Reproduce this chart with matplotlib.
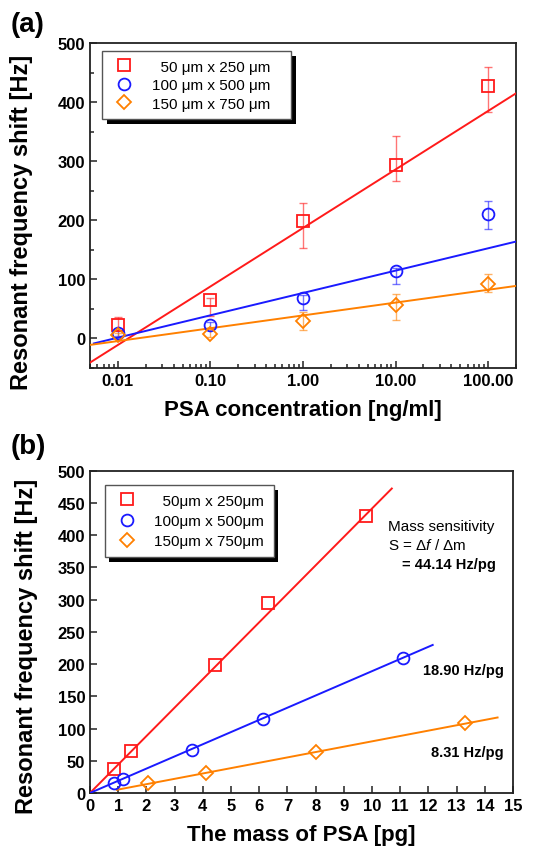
import numpy as np
import matplotlib
matplotlib.use("Agg")
import matplotlib.pyplot as plt
from matplotlib.patches import Rectangle
from matplotlib.ticker import FixedLocator, NullFormatter, LogLocator, MultipleLocator

plt.rcParams['font.family'] = ['Liberation Sans', 'DejaVu Sans']
plt.rcParams['mathtext.fontset'] = 'custom'
plt.rcParams['mathtext.it'] = 'Liberation Sans:italic'
plt.rcParams['mathtext.rm'] = 'Liberation Sans'

# ---------------- data ----------------
labels_a = ["  50 \u03bcm x 250 \u03bcm", "100 \u03bcm x 500 \u03bcm", "150 \u03bcm x 750 \u03bcm"]
labels_b = ["  50\u03bcm x 250\u03bcm", "100\u03bcm x 500\u03bcm", "150\u03bcm x 750\u03bcm"]
colors = ["#ff1a1a", "#1a1aff", "#ff8000"]
markers = ["s", "o", "D"]
msizes = [8.5, 8.5, 7.5]

conc = [0.01, 0.1, 1.0, 10.0, 100.0]
conc_ticklabels = ["0.01", "0.10", "1.00", "10.00", "100.00"]

shift_small = [22, 65, 198, 293, 428]
err_lo_small = [10, 27, 45, 26, 45]
err_hi_small = [14, 3, 31, 50, 31]

shift_mid = [10, 23, 68, 114, 210]
err_lo_mid = [5, 5, 20, 21, 24]
err_hi_mid = [5, 5, 5, 5, 23]

shift_large = [6, 8, 30, 57, 93]
err_lo_large = [4, 6, 15, 26, 14]
err_hi_large = [4, 8, 15, 19, 16]

# log-linear fits: y = a + b*log10(x)
fit_a_int = [187, 77, 39]
fit_a_slope = [99, 37.8, 21.7]
fit_a_xrange = [(0.005, 200), (0.0055, 200), (0.005, 200)]

# panel (b): mass of PSA
mass_small = [0.84, 1.46, 4.44, 6.31, 9.77]
freq_small = [37, 65, 198, 294, 429]
mass_mid = [0.84, 1.18, 3.60, 6.12, 11.10]
freq_mid = [15, 22, 67, 114, 210]
mass_large = [2.04, 4.11, 8.01, 13.29]
freq_large = [15, 31, 63, 109]

sens = [44.14, 18.90, 8.31]
fit_b_int = [0, 0, -3]
fit_b_xrange = [(0, 10.7), (0, 12.15), (0.95, 14.45)]

# ---------------- figure ----------------
fig = plt.figure(figsize=(5.41, 8.54), dpi=100)
axA = fig.add_axes([0.1664, 0.5679, 0.7874, 0.3806])
axB = fig.add_axes([0.1664, 0.0703, 0.7820, 0.3774])

xlabfont = dict(fontsize=16, fontweight='bold')
ylabfont = dict(fontsize=17, fontweight='bold')

def style_axes(ax):
    for s in ax.spines.values():
        s.set_linewidth(1.3)
        s.set_color('#222222')
    ax.tick_params(which='both', direction='in', top=False, right=False, width=1.1, color='#222222')
    ax.tick_params(which='major', length=5)
    ax.tick_params(which='minor', length=3)
    for lab in ax.get_xticklabels() + ax.get_yticklabels():
        lab.set_fontsize(12)
        lab.set_fontweight('bold')

def add_shadow(ax, leg, dx=5, dy=5):
    fig.canvas.draw()
    bb = leg.get_window_extent()
    inv = fig.transFigure.inverted()
    (x0, y0) = inv.transform((bb.x0 + dx, bb.y0 - dy))
    (x1, y1) = inv.transform((bb.x1 + dx, bb.y1 - dy))
    r = Rectangle((x0, y0), x1 - x0, y1 - y0, transform=fig.transFigure,
                  facecolor='black', edgecolor='none', zorder=4.9, clip_on=False)
    ax.add_artist(r)

# ---- panel (a) ----
ax = axA
ax.set_xscale('log')
series_a = [(shift_small, err_lo_small, err_hi_small),
            (shift_mid, err_lo_mid, err_hi_mid),
            (shift_large, err_lo_large, err_hi_large)]
for i, (yv, elo, ehi) in enumerate(series_a):
    ax.errorbar(conc, yv, yerr=[elo, ehi], fmt='none', ecolor=colors[i],
                alpha=0.6, elinewidth=1.0, capsize=3, capthick=1.0, zorder=2)
    x0, x1 = fit_a_xrange[i]
    xs = np.array([x0, x1])
    ax.plot(xs, fit_a_int[i] + fit_a_slope[i] * np.log10(xs), color=colors[i], lw=1.4, zorder=3)
for i, (yv, _, _) in enumerate(series_a):
    ax.plot(conc, yv, linestyle='none', marker=markers[i], ms=msizes[i],
            mfc='none', mec=colors[i], mew=1.3, label=labels_a[i], zorder=4)
ax.set_xlim(0.005, 200)
ax.set_ylim(-50, 500)
ax.xaxis.set_major_locator(FixedLocator(conc))
ax.set_xticklabels(conc_ticklabels)
ax.xaxis.set_minor_locator(LogLocator(base=10, subs=np.arange(2, 10)))
ax.xaxis.set_minor_formatter(NullFormatter())
ax.yaxis.set_major_locator(FixedLocator([0, 100, 200, 300, 400, 500]))
ax.yaxis.set_minor_locator(MultipleLocator(50))
style_axes(ax)
ax.set_xlabel("PSA concentration [ng/ml]", labelpad=8, **xlabfont)
ax.set_ylabel("Resonant frequency shift [Hz]", **ylabfont)
ax.yaxis.set_label_coords(-0.134, 0.452)
# legend box: fig px x 102..291
legA = ax.legend(loc='upper left', bbox_to_anchor=(0.028, 0.975, 0.444, 0.0), mode='expand',
                 borderaxespad=0, fancybox=False, framealpha=1, edgecolor='#555555', fontsize=11,
                 handletextpad=0.9, labelspacing=0.3, borderpad=0.55, handlelength=1.8)
legA.get_frame().set_linewidth(1.0)
legA.set_zorder(5)

# ---- panel (b) ----
ax = axB
series_b = [(mass_small, freq_small), (mass_mid, freq_mid), (mass_large, freq_large)]
for i, (xv, yv) in enumerate(series_b):
    x0, x1 = fit_b_xrange[i]
    xs = np.array([x0, x1])
    ax.plot(xs, fit_b_int[i] + sens[i] * xs, color=colors[i], lw=1.4, zorder=3)
    ax.plot(xv, yv, linestyle='none', marker=markers[i], ms=msizes[i],
            mfc='none', mec=colors[i], mew=1.3, label=labels_b[i], zorder=4)
ax.set_xlim(0, 15)
ax.set_ylim(0, 500)
ax.xaxis.set_major_locator(MultipleLocator(1))
ax.yaxis.set_major_locator(MultipleLocator(50))
style_axes(ax)
ax.set_xlabel("The mass of PSA [pg]", labelpad=8, **xlabfont)
ax.set_ylabel("Resonant frequency shift [Hz]", **ylabfont)
ax.yaxis.set_label_coords(-0.123, 0.459)
# legend box: fig px x 105..274
legB = ax.legend(loc='upper left', bbox_to_anchor=(0.035, 0.955, 0.40, 0.0), mode='expand',
                 borderaxespad=0, fancybox=False, framealpha=1, edgecolor='#555555', fontsize=11,
                 handletextpad=0.9, labelspacing=0.42, borderpad=0.55, handlelength=1.8)
legB.get_frame().set_linewidth(1.0)
legB.set_zorder(5)

ax.text(0.704, 0.817, "Mass sensitivity", transform=ax.transAxes, fontsize=11)
ax.text(0.704, 0.757, "S = \u0394$\\mathit{f}$ / \u0394m", transform=ax.transAxes, fontsize=11)
ax.text(0.738, 0.697, "= %.2f Hz/pg" % sens[0], transform=ax.transAxes, fontsize=10.5, fontweight='bold')
ax.text(0.787, 0.369, "%.2f Hz/pg" % sens[1], transform=ax.transAxes, fontsize=10.5, fontweight='bold')
ax.text(0.807, 0.114, "%.2f Hz/pg" % sens[2], transform=ax.transAxes, fontsize=10.5, fontweight='bold')

fig.text(0.020, 0.971, "(a)", fontsize=20, fontweight='bold', va='center')
fig.text(0.020, 0.4766, "(b)", fontsize=20, fontweight='bold', va='center')

add_shadow(axA, legA)
add_shadow(axB, legB, dx=4, dy=5)

fig.savefig("out.png", dpi=100)
